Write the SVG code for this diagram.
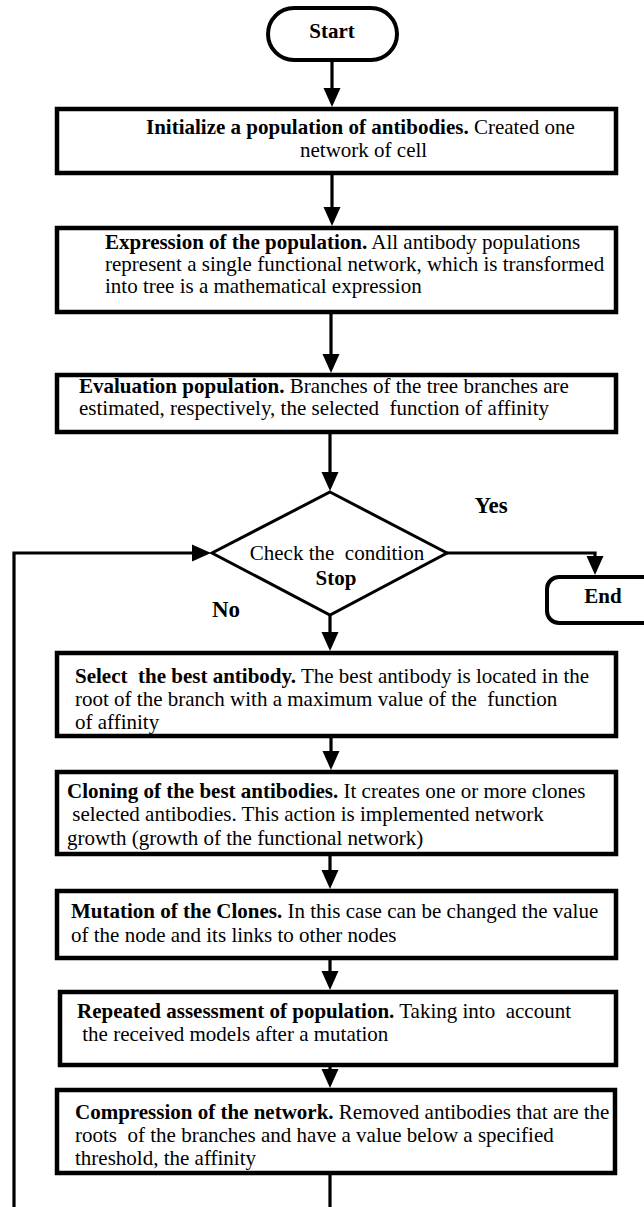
<svg xmlns="http://www.w3.org/2000/svg" width="644" height="1207" viewBox="0 0 644 1207">
<style>
.box{fill:#fff;stroke:#000;stroke-width:4.5}
.term{fill:#fff;stroke:#000;stroke-width:4}
.dia{fill:#fff;stroke:#000;stroke-width:3}
.t{font-family:"Liberation Serif","Times New Roman",serif;font-size:21px;fill:#000;white-space:pre}
.b{font-weight:bold}
.lbl{font-family:"Liberation Serif","Times New Roman",serif;font-size:23px;font-weight:bold;fill:#000}
.c{text-anchor:middle}
.conn{fill:none;stroke:#000;stroke-width:3.2}
</style>
<defs>
<marker id="ah" markerUnits="userSpaceOnUse" viewBox="0 -9 20 18" refX="0" refY="0" markerWidth="20" markerHeight="18" orient="auto">
<path d="M0,-8.5 L19,0 L0,8.5 Z" fill="#000"/>
</marker>
</defs>
<rect width="644" height="1207" fill="#fff"/>
<g id="connectors">
<path class="conn" d="M332,61 V88" marker-end="url(#ah)"/>
<path class="conn" d="M332,175 V207" marker-end="url(#ah)"/>
<path class="conn" d="M331,314 V354" marker-end="url(#ah)"/>
<path class="conn" d="M330,434 V472" marker-end="url(#ah)"/>
<path class="conn" d="M330,615 V632" marker-end="url(#ah)"/>
<path class="conn" d="M331,738 V751" marker-end="url(#ah)"/>
<path class="conn" d="M330,856 V870" marker-end="url(#ah)"/>
<path class="conn" d="M330,960 V971" marker-end="url(#ah)"/>
<path class="conn" d="M330,1067 V1069" marker-end="url(#ah)"/>
<path class="conn" d="M330,1175 V1207"/>
<path class="conn" d="M14,1207 V553 H192" marker-end="url(#ah)"/>
<path class="conn" d="M447,553 H595 V556" marker-end="url(#ah)"/>
</g>
<g id="start">
<rect class="term" x="268" y="8" width="129" height="52" rx="26"/>
<text class="t b c" x="332" y="38">Start</text>
</g>
<g id="init">
<rect class="box" x="57" y="109" width="559" height="64"/>
<text class="t" x="146" y="134"><tspan class="b">Initialize a population of antibodies.</tspan> Created one</text>
<text class="t" x="300" y="157">network of cell</text>
</g>
<g id="expression">
<rect class="box" x="57" y="228" width="559" height="84"/>
<text class="t" x="105" y="249"><tspan class="b">Expression of the population.</tspan> All antibody populations</text>
<text class="t" x="105" y="271">represent a single functional network, which is transformed</text>
<text class="t" x="105" y="293">into tree is a mathematical expression</text>
</g>
<g id="evaluation">
<rect class="box" x="57" y="375" width="559" height="57"/>
<text class="t" x="79" y="393"><tspan class="b">Evaluation population.</tspan> Branches of the tree branches are</text>
<text class="t" x="79" y="415">estimated, respectively, the selected  function of affinity</text>
</g>
<g id="check">
<polygon class="dia" points="330,492 447,553 330,615 212,553"/>
<text class="t c" x="337" y="560">Check the  condition</text>
<text class="t b c" x="336" y="585">Stop</text>
</g>
<g id="yes-label"><text class="lbl c" x="491" y="513">Yes</text></g>
<g id="no-label"><text class="lbl c" x="226" y="617">No</text></g>
<g id="end">
<rect class="term" x="547" y="577" width="120" height="46" rx="12"/>
<text class="t b c" x="603" y="603">End</text>
</g>
<g id="select">
<rect class="box" x="57" y="653" width="559" height="83"/>
<text class="t" x="75" y="683"><tspan class="b">Select  the best antibody.</tspan> The best antibody is located in the</text>
<text class="t" x="75" y="706">root of the branch with a maximum value of the  function</text>
<text class="t" x="75" y="729">of affinity</text>
</g>
<g id="cloning">
<rect class="box" x="57" y="772" width="559" height="82"/>
<text class="t" x="67" y="798"><tspan class="b">Cloning of the best antibodies.</tspan> It creates one or more clones</text>
<text class="t" x="67" y="821"> selected antibodies. This action is implemented network</text>
<text class="t" x="67" y="845">growth (growth of the functional network)</text>
</g>
<g id="mutation">
<rect class="box" x="57" y="891" width="559" height="67"/>
<text class="t" x="71" y="918"><tspan class="b">Mutation of the Clones.</tspan> In this case can be changed the value</text>
<text class="t" x="71" y="942">of the node and its links to other nodes</text>
</g>
<g id="repeated">
<rect class="box" x="60" y="992" width="556" height="73"/>
<text class="t" x="77" y="1018"><tspan class="b">Repeated assessment of population.</tspan> Taking into  account</text>
<text class="t" x="77" y="1041"> the received models after a mutation</text>
</g>
<g id="compression">
<rect class="box" x="57" y="1090" width="558" height="83"/>
<text class="t" x="75" y="1119"><tspan class="b">Compression of the network.</tspan> Removed antibodies that are the</text>
<text class="t" x="75" y="1142">roots  of the branches and have a value below a specified</text>
<text class="t" x="75" y="1165">threshold, the affinity</text>
</g>
</svg>
